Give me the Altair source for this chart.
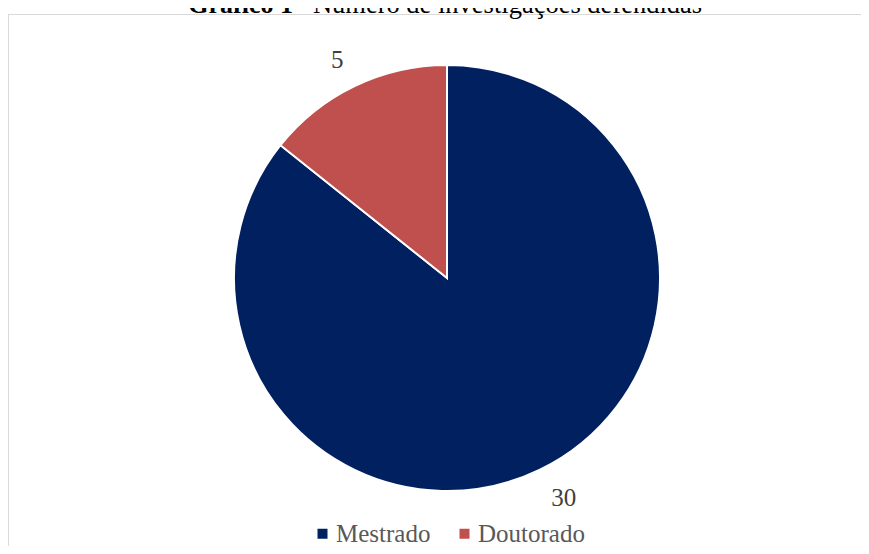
import altair as alt
import pandas as pd

categories = ["Mestrado", "Doutorado"]
values = [30, 5]
colors = ["#002060", "#C0504D"]
title_bold = "Gráfico 1"
title_rest = " – Número de investigações defendidas"

df = pd.DataFrame({"category": categories, "value": values, "idx": list(range(len(categories)))})
tdf = pd.DataFrame({"t": [title_bold, title_rest], "part": ["b", "r"]})

W, H = 853, 538
CX, CY = 439, 270
FONT = "Liberation Serif"

base = alt.Chart(df).encode(
    theta=alt.Theta("value:Q", stack=True),
    order=alt.Order("idx:Q"),
)

pie = base.mark_arc(outerRadius=213, stroke="white", strokeWidth=2).encode(
    x=alt.value(CX),
    y=alt.value(CY),
    color=alt.Color(
        "category:N",
        scale=alt.Scale(domain=categories, range=colors),
        sort=categories,
        legend=alt.Legend(
            title=None,
            orient="none",
            direction="horizontal",
            legendX=302,
            legendY=513,
            symbolType="square",
            symbolSize=100,
            symbolStrokeWidth=0,
            labelFont=FONT,
            labelFontSize=25,
            labelColor="#595959",
            labelOffset=1,
            columnPadding=21,
            padding=0,
        ),
    ),
)

label_style = dict(radius=246, font=FONT, fontSize=25, color="#404040", align="center", baseline="middle")

labels_m = base.mark_text(dx=10, dy=-2, **label_style).encode(
    x=alt.value(CX),
    y=alt.value(CY),
    text=alt.condition("datum.category == 'Mestrado'", alt.Text("value:Q"), alt.value("")),
)
labels_d = base.mark_text(dx=-3, dy=4, **label_style).encode(
    x=alt.value(CX),
    y=alt.value(CY),
    text=alt.condition("datum.category == 'Doutorado'", alt.Text("value:Q"), alt.value("")),
)

tb = alt.Chart(tdf).transform_filter("datum.part == 'b'").mark_text(
    font=FONT, fontSize=26, fontWeight="bold", color="#000000", align="right", baseline="alphabetic"
).encode(x=alt.value(285), y=alt.value(5), text="t:N")

tr = alt.Chart(tdf).transform_filter("datum.part == 'r'").mark_text(
    font=FONT, fontSize=26.5, color="#000000", align="left", baseline="alphabetic"
).encode(x=alt.value(285), y=alt.value(5), text="t:N")

top_border = alt.Chart(df).mark_rule(color="#d9d9d9", strokeWidth=1).encode(
    x=alt.value(0.5), x2=alt.value(W), y=alt.value(6.5)
)
left_border = alt.Chart(df).mark_rule(color="#d9d9d9", strokeWidth=1).encode(
    x=alt.value(0.5), y=alt.value(6.5), y2=alt.value(H)
)

chart = alt.layer(top_border, left_border, pie, labels_m, labels_d, tb, tr).properties(
    width=W, height=H, autosize=alt.AutoSizeParams(type="none"), padding=0, background="white"
).configure_view(stroke=None)

chart.save("out.html", embed_options={"renderer": "svg", "actions": False})
